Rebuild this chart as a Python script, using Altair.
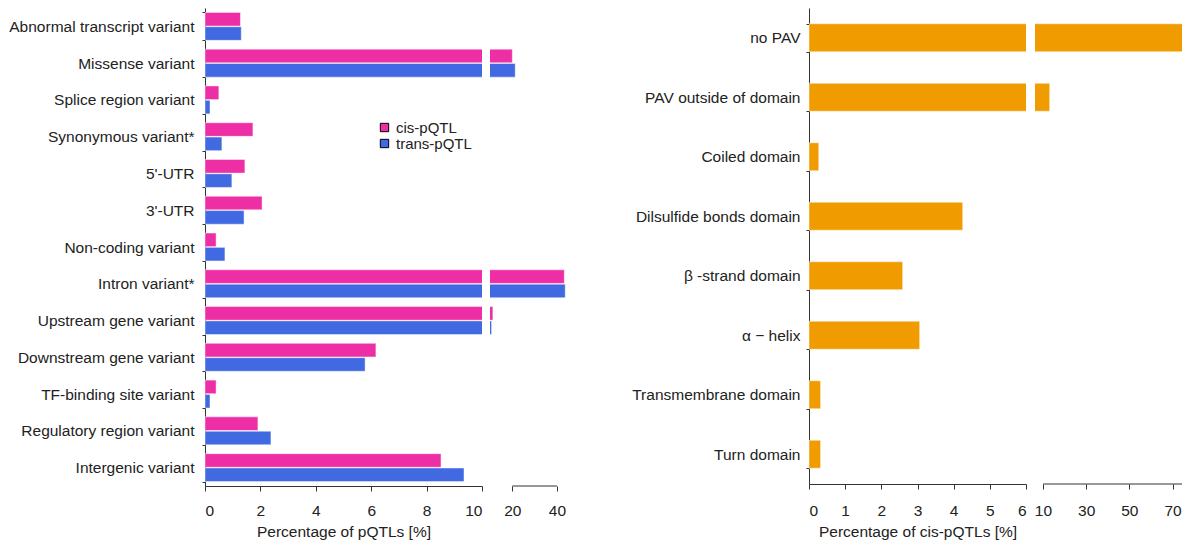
import altair as alt
import pandas as pd

# ---------------- data ----------------
categories = ["Abnormal transcript variant", "Missense variant", "Splice region variant",
              "Synonymous variant*", "5'-UTR", "3'-UTR", "Non-coding variant",
              "Intron variant*", "Upstream gene variant", "Downstream gene variant",
              "TF-binding site variant", "Regulatory region variant", "Intergenic variant"]
series = ["cis-pQTL", "trans-pQTL"]
cis_values = [1.28, 20.0, 0.5, 1.73, 1.44, 2.06, 0.4, 43.3, 11.3, 6.17, 0.4, 1.91, 8.52]
trans_values = [1.31, 21.3, 0.18, 0.61, 0.97, 1.41, 0.72, 43.7, 10.7, 5.78, 0.18, 2.38, 9.35]
left_ticks_low = [0, 2, 4, 6, 8, 10]
left_ticks_high = [20, 40]
left_break = [0, 10]
left_upper = [10, 44.5]

domains = ["no PAV", "PAV outside of domain", "Coiled domain", "Dilsulfide bonds domain",
           "\u03b2 -strand domain", "\u03b1 \u2212 helix", "Transmembrane domain", "Turn domain"]
domain_values = [76.8, 13.1, 0.27, 4.25, 2.59, 3.06, 0.32, 0.32]
right_ticks_low = [0, 1, 2, 3, 4, 5, 6]
right_ticks_high = [10, 20, 30, 40, 50, 60, 70]
right_break = [0, 6]
right_upper = [6.3, 74.4]

colors = ["#EE2EA4", "#4169E1"]
orange = "#F09C00"
FONT = "Liberation Sans"
FS = 15.5
TXT = "#222222"
AX = "#333333"

left_df = pd.DataFrame({
    "category": categories * 2,
    "series": [series[0]] * len(categories) + [series[1]] * len(categories),
    "value": cis_values + trans_values,
})
right_df = pd.DataFrame({"domain": domains, "value": domain_values})

LH = 478
RH = 476
NOVIEW = alt.ViewBackground(stroke="transparent", strokeWidth=0)

color_enc = alt.Color("series:N", scale=alt.Scale(domain=series, range=colors),
                      legend=alt.Legend(title=None, orient="none", legendX=172, legendY=112,
                                        symbolType="square", symbolSize=70,
                                        symbolStrokeColor="black", symbolStrokeWidth=1,
                                        labelFontSize=15, labelFont=FONT, labelColor=TXT,
                                        rowPadding=0, labelOffset=4))

y_left_axis = alt.Axis(title=None, tickBand="extent", tickSize=3, labelPadding=8,
                       labelFontSize=FS, labelFont=FONT, labelColor=TXT,
                       domainColor=AX, tickColor=AX, labelLimit=300)
y_left_scale = alt.Scale(paddingInner=0.24, paddingOuter=0.12)
yoff = alt.YOffset("series:N", sort=series, scale=alt.Scale(paddingInner=0.05))

bar_left = alt.Chart(left_df).mark_bar(clip=True, stroke="white", strokeOpacity=0.45, strokeWidth=1)

L1 = bar_left.encode(
    y=alt.Y("category:N", sort=categories, scale=y_left_scale, axis=y_left_axis),
    yOffset=yoff,
    x=alt.X("value:Q", scale=alt.Scale(domain=left_break, nice=False, zero=False),
            axis=alt.Axis(values=left_ticks_low, title="Percentage of pQTLs [%]", grid=False,
                          tickSize=5, labelPadding=12, titlePadding=6,
                          labelFontSize=FS, titleFontSize=FS, titleFontWeight="normal",
                          labelFont=FONT, titleFont=FONT, labelColor=TXT, titleColor=TXT,
                          domainColor=AX, tickColor=AX)),
    color=color_enc,
).properties(width=277, height=LH, view=NOVIEW)

left_rule_df = pd.DataFrame({"lo": [min(left_ticks_high)], "hi": [max(left_ticks_high)]})
L2_bars = bar_left.encode(
    y=alt.Y("category:N", sort=categories, scale=y_left_scale, axis=None),
    yOffset=yoff,
    x=alt.X("value:Q", scale=alt.Scale(domain=left_upper, nice=False, zero=False),
            axis=alt.Axis(values=left_ticks_high, title=None, grid=False, domain=False,
                          tickSize=5, labelPadding=12,
                          labelFontSize=FS, labelFont=FONT, labelColor=TXT, tickColor=AX)),
    color=color_enc,
)
L2_rule = alt.Chart(left_rule_df).mark_rule(color=AX, strokeWidth=1).encode(
    x="lo:Q", x2="hi:Q", y=alt.value(LH))
L2 = alt.layer(L2_bars, L2_rule).properties(width=77, height=LH, view=NOVIEW)

# ---------------- right ----------------
y_right_axis = alt.Axis(title=None, tickBand="extent", tickSize=3, labelPadding=6,
                        labelFontSize=FS, labelFont=FONT, labelColor=TXT,
                        domainColor=AX, tickColor=AX, labelLimit=300)
y_right_scale = alt.Scale(paddingInner=0.53, paddingOuter=0.265)
bar_right = alt.Chart(right_df).mark_bar(clip=True, color=orange, stroke="white",
                                         strokeOpacity=0.45, strokeWidth=1)

R1 = bar_right.encode(
    y=alt.Y("domain:N", sort=domains, scale=y_right_scale, axis=y_right_axis),
    x=alt.X("value:Q", scale=alt.Scale(domain=right_break, nice=False, zero=False),
            axis=alt.Axis(values=right_ticks_low, title="Percentage of cis-pQTLs [%]", grid=False,
                          tickSize=5, labelPadding=14, titlePadding=6,
                          labelFontSize=FS, titleFontSize=FS, titleFontWeight="normal",
                          labelFont=FONT, titleFont=FONT, labelColor=TXT, titleColor=TXT,
                          domainColor=AX, tickColor=AX)),
).properties(width=217, height=RH, view=NOVIEW)

right_rule_df = pd.DataFrame({"lo": [min(right_ticks_high)], "hi": [right_upper[1]]})
R2_bars = bar_right.encode(
    y=alt.Y("domain:N", sort=domains, scale=y_right_scale, axis=None),
    x=alt.X("value:Q", scale=alt.Scale(domain=right_upper, nice=False, zero=False),
            axis=alt.Axis(values=right_ticks_high, title=None, grid=False, domain=False,
                          labelExpr="datum.value % 20 == 10 ? datum.label : ''",
                          tickSize=5, labelPadding=14,
                          labelFontSize=FS, labelFont=FONT, labelColor=TXT, tickColor=AX)),
)
R2_rule = alt.Chart(right_rule_df).mark_rule(color=AX, strokeWidth=1).encode(
    x="lo:Q", x2="hi:Q", y=alt.value(RH))
R2 = alt.layer(R2_bars, R2_rule).properties(width=147, height=RH, view=NOVIEW)

left = alt.hconcat(L1, L2, spacing=7).resolve_scale(color="shared", y="shared")
right = alt.hconcat(R1, R2, spacing=7).resolve_scale(y="shared")

chart = alt.hconcat(left, right, spacing=64).resolve_scale(
    x="independent", y="independent", color="shared"
).properties(
    padding={"left": 0, "top": -7, "right": 0, "bottom": 0}
).configure_view(strokeWidth=0, stroke="transparent").configure(background="white")

chart.save("out.html", embed_options={"renderer": "svg", "actions": False})
